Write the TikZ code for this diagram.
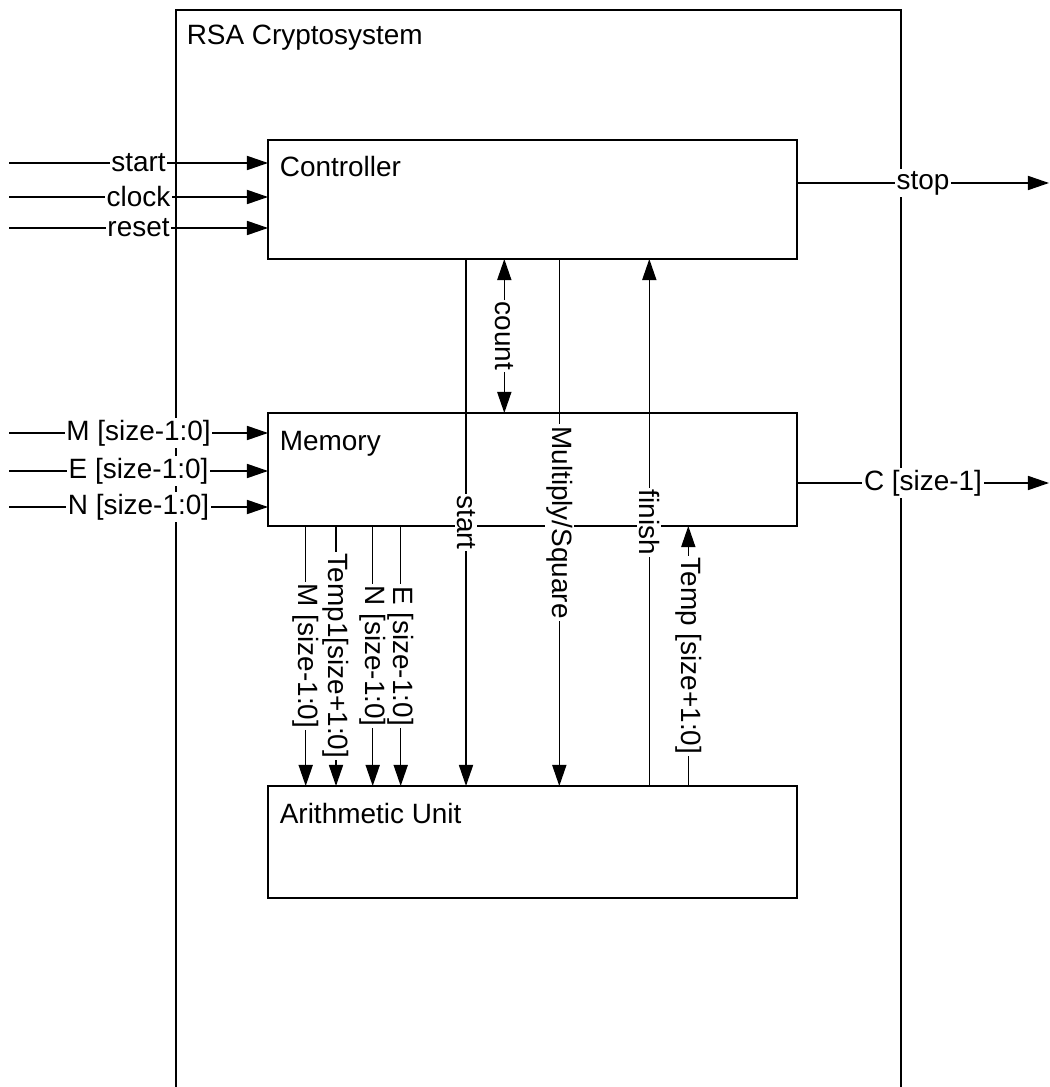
\documentclass[tikz,border=0pt]{standalone}
\usepackage{fontspec}
\setmainfont{Liberation Sans}
\usetikzlibrary{arrows.meta, positioning, calc}

\begin{document}
\begin{tikzpicture}[x=0.02cm, y=-0.02cm, line width=0.9pt,
		font=\fontsize{15.9}{19}\selectfont,
		block/.style={draw, rectangle, minimum width=10.58cm, inner sep=0pt, outer sep=0pt},
		title/.style={anchor=base west, inner sep=0pt},
		sig/.style={-{Triangle[length=12pt, width=8pt]}},
		bisig/.style={{Triangle[length=12pt, width=8pt]}-{Triangle[length=12pt, width=8pt]}},
		lbl/.style={fill=white, inner sep=1pt},
		vlbl/.style={lbl, rotate=-90}]
		
		\useasboundingbox (0,0) rectangle (1049,1087);
		
		% System frame, open at the bottom
		\coordinate (sysTL) at (176,10);
		\coordinate (sysBR) at (901,1087);
		\draw (sysTL |- sysBR) -- (sysTL) -- (sysTL -| sysBR) -- (sysBR);
		\node[title] (systxt) at (186,45) {RSA Cryptosystem};
		
		% Blocks
		\node[block, minimum height=2.38cm] (ctrl) at (532.5,199.5) {};
		\node[block, minimum height=2.26cm] (mem) at (532.5,469.5) {};
		\node[block, minimum height=2.24cm] (alu) at (532.5,842) {};
		\node[title] (ctrltxt) at ([xshift=0.22cm, yshift=-0.72cm]ctrl.north west) {Controller};
		\node[title] (memtxt) at ([xshift=0.22cm, yshift=-0.74cm]mem.north west) {Memory};
		\node[title] (alutxt) at ([xshift=0.22cm, yshift=-0.74cm]alu.north west) {Arithmetic Unit};
		
		% Inputs
		\foreach \n/\y/\t in {inStart/163/start, inClock/197/clock, inReset/228/reset} {
			\coordinate (\n) at (9,\y);
			\draw[sig] (\n) -- (\n -| ctrl.west) node[lbl, midway] {\t};
		}
		\foreach \n/\y/\t in {inM/433/{M [size-1:0]}, inE/471/{E [size-1:0]}, inN/507/{N [size-1:0]}} {
			\coordinate (\n) at (9,\y);
			\draw[sig] (\n) -- (\n -| mem.west) node[lbl, midway] {\t};
		}
		
		% Outputs
		\coordinate (outStop) at (1049,183);
		\coordinate (outC) at (1049,483);
		\draw[sig] (outStop -| ctrl.east) -- (outStop) node[lbl, midway] {stop};
		\draw[sig] (outC -| mem.east) -- (outC) node[lbl, midway] {C [size-1]};
		
		% Memory to arithmetic unit
		\foreach \n/\x/\t in {colM/305.7/{M [size-1:0]}, colT/336/{Temp1[size+1:0]}, colN/372.7/{N [size-1:0]}, colE/400.7/{E [size-1:0]}} {
			\coordinate (\n) at (\x,0);
			\draw[sig] (mem.south -| \n) -- (alu.north -| \n) node[vlbl, midway] {\t};
		}
		
		% Controller links
		\coordinate (colStart) at (466,0);
		\coordinate (colCount) at (504.3,0);
		\coordinate (colMul) at (559.3,0);
		\coordinate (colFin) at (649.3,0);
		\coordinate (colTemp) at (688.3,0);
		\draw[sig] (ctrl.south -| colStart) -- (alu.north -| colStart) node[vlbl, midway] {start};
		\draw[bisig] (ctrl.south -| colCount) -- (mem.north -| colCount) node[vlbl, midway] {count};
		\draw[sig] (ctrl.south -| colMul) -- (alu.north -| colMul) node[vlbl, midway] {Multiply/Square};
		\draw[sig] (alu.north -| colFin) -- (ctrl.south -| colFin) node[vlbl, midway] {finish};
		\draw[sig] (alu.north -| colTemp) -- (mem.south -| colTemp) node[vlbl, midway] {Temp [size+1:0]};
		
	\end{tikzpicture}
\end{document}
